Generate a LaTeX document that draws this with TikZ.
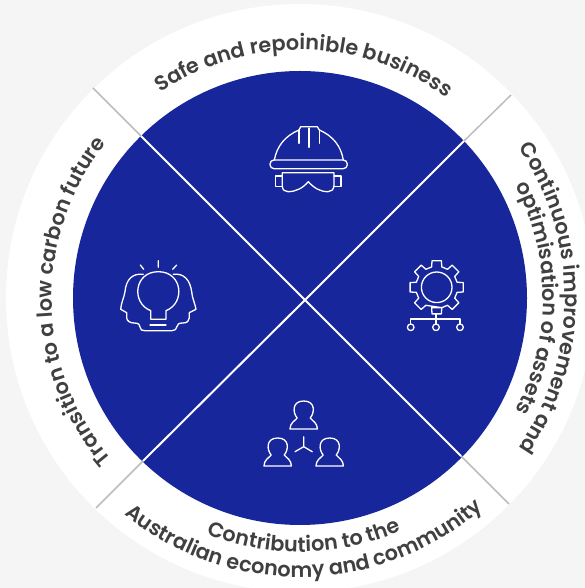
\documentclass[tikz,border=0pt]{standalone}
\usepackage{fontspec}
\setmainfont{Poppins}[BoldFont={Poppins SemiBold}]
\usetikzlibrary{calc,decorations.text}
\definecolor{ringblue}{HTML}{18269B}
\definecolor{ringback}{HTML}{F5F5F5}
\definecolor{ringtext}{HTML}{404040}
\definecolor{ringline}{HTML}{BDBDBD}
\newcommand{\ringfont}{\fontsize{20.8}{20.8}\selectfont\bfseries\color{ringtext}}
\begin{document}
\begin{tikzpicture}[
    x=1pt,y=1pt,
    icon/.style={draw=white,line width=1.3pt,line join=round,line cap=round},
    ringlabel/.style={decorate,decoration={text along path,text align=center,text={|\ringfont|#1}}},
    person/.pic={
        \draw[icon] (-13.7,0) -- (13.7,0) .. controls (13.7,-6) and (9,-8) .. (6.5,-11)
            .. controls (11,-16) and (12,-28) .. (0,-28)
            .. controls (-12,-28) and (-11,-16) .. (-6.5,-11)
            .. controls (-9,-8) and (-13.7,-6) .. (-13.7,0) -- cycle;
    }
    ]
	\useasboundingbox (0,0) rectangle (585,588);
	\clip (0,0) rectangle (585,588);
	\fill[ringback] (0,0) rectangle (585,588);
	\coordinate (centre) at (300,290);
	\coordinate (cross) at (305,288);
	\coordinate (nw) at (93,500);
	\coordinate (ne) at (511,493);
	\coordinate (sw) at (96,80);
	\coordinate (se) at (509,84);
	\coordinate (nwin) at (141,452);
	\coordinate (nein) at (464,447);
	\coordinate (swin) at (143,127);
	\coordinate (sein) at (461,132);
	\fill[white] (centre) circle (294);
	\fill[ringblue] (centre) circle (227);
	\draw[ringline,line width=1.5pt] (nw) -- (nwin) (ne) -- (nein) (sw) -- (swin) (se) -- (sein);
	\draw[white,line width=2pt] (nwin) -- (cross) (nein) -- (cross) (swin) -- (cross) (sein) -- (cross);
	% labels round the ring
	\path[ringlabel={Safe and repoinible business}] ($(centre)+(149:248)$) arc (149:29:248);
	\path[ringlabel={Continuous improvement and}] ($(centre)+(60:265)$) arc (60:-60:265);
	\path[ringlabel={optimisation of assets}] ($(centre)+(60:243)$) arc (60:-60:243);
	\path[ringlabel={Transition to a low carbon future}] ($(centre)+(241:248)$) arc (241:121:248);
	\path[ringlabel={Contribution to the}] ($(centre)+(241:254)$) arc (241:301:254);
	\path[ringlabel={Australian economy and community}] ($(centre)+(226:279)$) arc (226:316:279);
	% icons, in picture pixels
	\begin{scope}[shift={(0,588)},y=-1pt]
		% helmet
		\draw[icon] (274.3,160) .. controls (277,146) and (285,136) .. (299,130) -- (300.7,126.7) -- (317.3,126.7) -- (319.3,130)
			.. controls (333,136) and (341,146) .. (343.3,160);
		\draw[icon] (299,130) -- (299,143.3) (309,128) -- (309,147.3) (319.3,130) -- (319.3,143.3);
		\draw[icon,rounded corners=4pt] (270,160) rectangle (347.3,168.7);
		\draw[icon] (282.3,172.7) -- (334,172.7) -- (334,185) .. controls (334,190) and (331,191.7) .. (328,191.7)
			.. controls (320,191.7) and (314,188) .. (308.3,181.7) .. controls (303,188) and (296,191.7) .. (288,191.7)
			.. controls (285,191.7) and (282.3,190) .. (282.3,186) -- cycle;
		\draw[icon] (282.3,176) -- (275.7,176) -- (275.7,186.7) -- (282.3,186.7);
		\draw[icon] (334,176) -- (341,176) -- (341,186.7) -- (334,186.7);
		% gear
		\begin{scope}[shift={(436.7,287.3)}]
			\draw[icon] (0,0) circle (15.3);
			\draw[icon] (76:21) \foreach \a in {90,45,0,-45,-90,-135,-180,-225} {
				-- ({\a+14}:21) -- ({\a+10}:27) -- ({\a-10}:27) -- ({\a-14}:21)} -- cycle;
		\end{scope}
		\coordinate (stemtop) at (436,314);
		\coordinate (stemfoot) at (436,319);
		\draw[icon] (stemtop) -- (stemfoot);
		\draw[icon] (410.7,324) -- (410.7,319) -- (460,319) -- (460,324);
		\draw[icon] (stemfoot) -- (436,324);
		\draw[icon] (410.7,327.3) circle (3.3) (436,327.3) circle (3.3) (460,327.3) circle (3.3);
		% bulb and heads
		\draw[icon] (158.3,260.7) -- (158.3,267.3) (140.3,265) -- (143.7,269.3) (176.7,265) -- (172.7,269.3);
		\draw[icon] (150.7,319.3) -- (150.7,310.7) .. controls (131,303) and (134,271.7) .. (158.3,271.7)
			.. controls (182.6,271.7) and (185.6,303) .. (166,310.7) -- (166,319.3) -- cycle;
		\draw[icon] (150,325) -- (166,325);
		\draw[icon] (143.3,274.3) .. controls (132,273) and (126,280) .. (125,291.7) .. controls (124,298) and (121,303) .. (120.7,309.3)
			-- (126.7,312.7) -- (126.7,318) .. controls (127,321) and (130,323) .. (134,323) .. controls (139,323) and (140,325) .. (140,327)
			.. controls (140,330) and (142,330.7) .. (145,330.7) -- (172,330.7) .. controls (175,330.7) and (176.7,329) .. (176.7,327)
			.. controls (177,324) and (179,323) .. (183,323) .. controls (187,323) and (189.3,321) .. (189.3,318) -- (189.3,312.7)
			-- (196,309.3) .. controls (195,303) and (192,298) .. (191.7,291.7) .. controls (190,280) and (184,273) .. (173.3,274.3);
		% people
		\pic at (303.7,429) {person};
		\pic at (277.7,466) {person};
		\pic at (329.7,466) {person};
		\coordinate (hub) at (303.7,446.7);
		\draw[icon] (hub) -- (303.7,436.7) (hub) -- (295,451.7) (hub) -- (312.3,451.7);
	\end{scope}
\end{tikzpicture}
\end{document}
